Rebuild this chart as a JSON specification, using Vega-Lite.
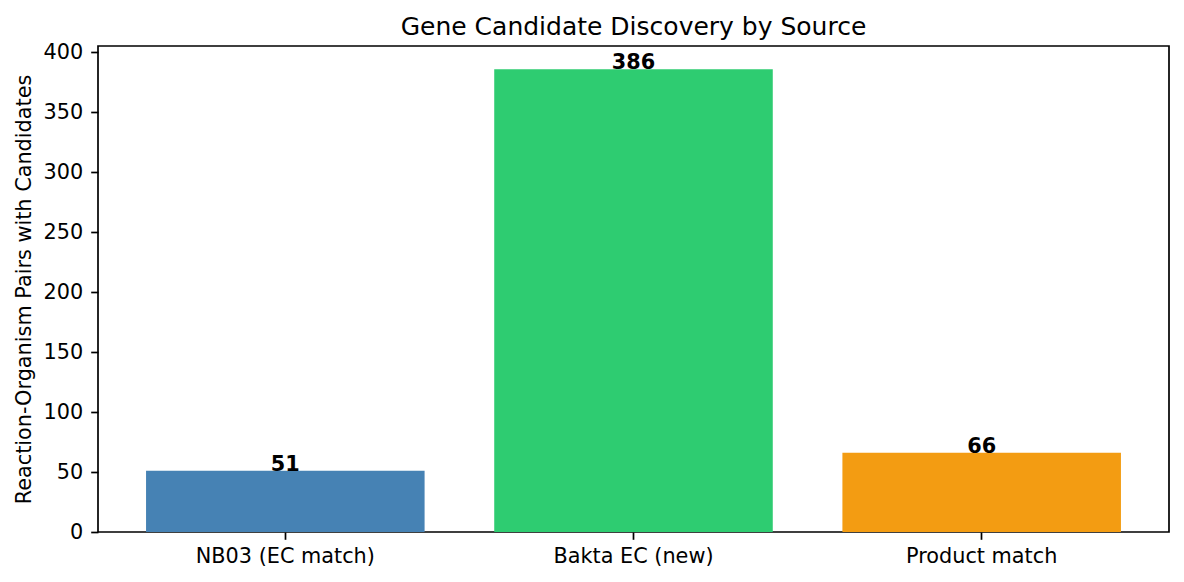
{
  "$schema": "https://vega.github.io/schema/vega-lite/v6.json",
  "autosize": "none",
  "width": 1071,
  "height": 486,
  "padding": {"left": 98, "top": 46, "right": 15, "bottom": 50},
  "background": "white",
  "title": {
    "text": "Gene Candidate Discovery by Source",
    "font": "DejaVu Sans",
    "fontSize": 25,
    "fontWeight": "normal",
    "color": "black",
    "offset": 1
  },
  "config": {
    "view": {"stroke": "black", "strokeWidth": 1.7},
    "axis": {
      "labelFont": "DejaVu Sans",
      "labelFontSize": 20.8,
      "labelColor": "black",
      "titleFont": "DejaVu Sans",
      "titleFontSize": 20.8,
      "titleFontWeight": "normal",
      "titleColor": "black",
      "domain": false,
      "tickColor": "black",
      "tickSize": 7.3,
      "tickWidth": 1.7,
      "grid": false
    }
  },
  "data": {
    "values": [
      {"source": "NB03 (EC match)", "count": 51, "color": "#4682B4"},
      {"source": "Bakta EC (new)", "count": 386, "color": "#2ECC71"},
      {"source": "Product match", "count": 66, "color": "#F39C12"}
    ]
  },
  "encoding": {
    "x": {
      "field": "source",
      "type": "nominal",
      "sort": null,
      "scale": {"paddingInner": 0.2, "paddingOuter": 0.138},
      "axis": {"title": null, "labelAngle": 0, "labelPadding": 7}
    },
    "y": {
      "field": "count",
      "type": "quantitative",
      "scale": {"domain": [0, 405.3], "nice": false},
      "axis": {
        "title": "Reaction-Organism Pairs with Candidates",
        "values": [0, 50, 100, 150, 200, 250, 300, 350, 400],
        "titlePadding": 9,
        "labelPadding": 8
      }
    }
  },
  "layer": [
    {
      "mark": {"type": "bar"},
      "encoding": {
        "color": {"field": "color", "type": "nominal", "scale": null}
      }
    },
    {
      "mark": {
        "type": "text",
        "baseline": "alphabetic",
        "dy": 0,
        "font": "DejaVu Sans",
        "fontSize": 20.8,
        "fontWeight": "bold",
        "color": "black"
      },
      "encoding": {"text": {"field": "count", "type": "quantitative"}}
    }
  ]
}
